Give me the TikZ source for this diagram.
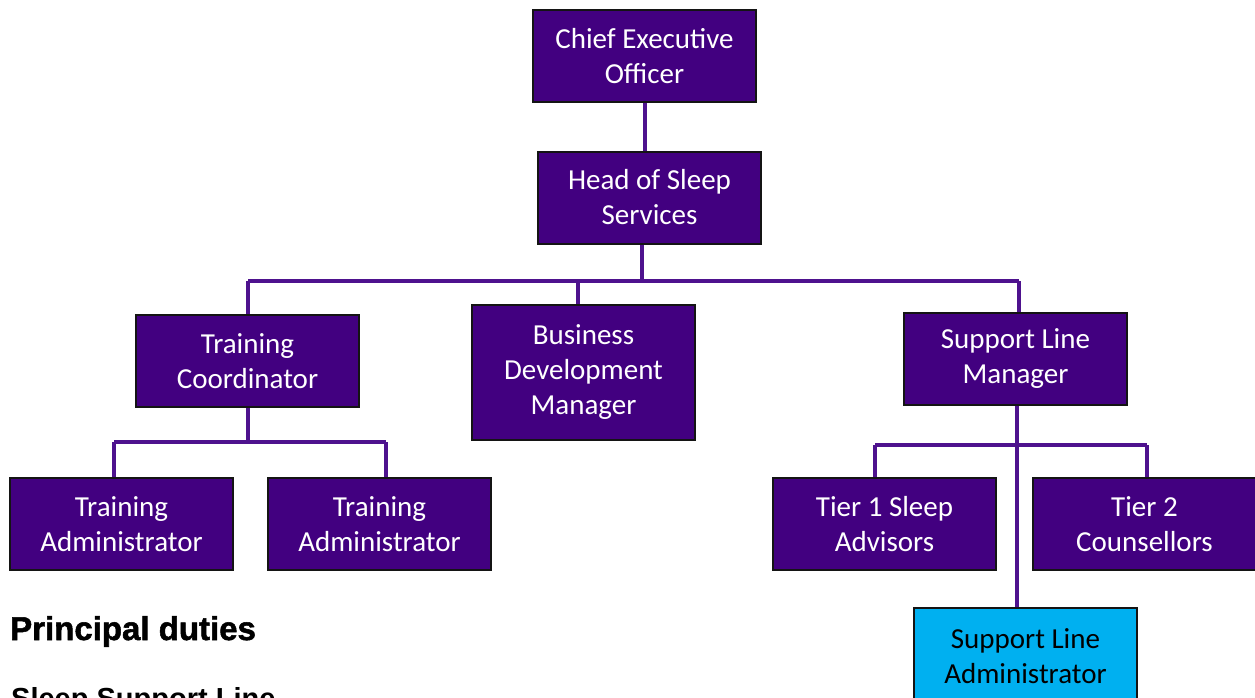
\documentclass[tikz,border=0pt]{standalone}
\usepackage{fontspec}
\setmainfont{Carlito}
\newfontfamily\headfont{Liberation Sans Bold}[FakeBold=1.6]
\newfontfamily\subheadfont{Liberation Sans Bold}
\definecolor{rolefill}{RGB}{66,0,128}
\definecolor{linkpurple}{RGB}{78,18,142}
\definecolor{adminfill}{RGB}{0,176,240}
\definecolor{boxedge}{RGB}{20,20,20}
\begin{document}
\begin{tikzpicture}[x=1pt,y=-1pt,
  role/.style={draw=boxedge, line width=2pt, fill=rolefill, text=white,
    minimum width=223pt, minimum height=92pt, inner sep=0pt, align=center,
    font=\fontsize{29}{35}\selectfont},
  adminbox/.style={role, fill=adminfill, text=black},
  link/.style={draw=linkpurple, line width=3.5pt}]
\path[use as bounding box] (0,0) rectangle (1255,698);
\clip (0,0) rectangle (1255,698);

% junction points of the connector bars
\coordinate (hb) at (642,281);
\coordinate (barL) at (248,281);
\coordinate (barM) at (578,281);
\coordinate (barR) at (1019,281);
\coordinate (tcb) at (248,442);
\coordinate (tcL) at (114,442);
\coordinate (tcR) at (386,442);
\coordinate (slb) at (1017,445);
\coordinate (slL) at (875,445);
\coordinate (slR) at (1147,445);

% roles
\node[role] (ceo) at (644.5,56) {Chief Executive\\Officer};
\node[role] (head) at (649.5,197.5) {Head of Sleep\\Services};
\node[role] (tc) at (247.5,361) {Training\\Coordinator};
\node[role, minimum height=135pt] (bdm) at (583.5,372.5) {Business\\Development\\Manager};
\node[role] (slm) at (1015.5,359) {Support Line\\Manager};
\node[role] (ta1) at (121.5,524) {Training\\Administrator};
\node[role] (ta2) at (379.5,524) {Training\\Administrator};
\node[role] (t1) at (884.5,524) {Tier 1 Sleep\\Advisors};
\node[role] (t2) at (1144.5,524) {Tier 2\\Counsellors};
\node[adminbox, minimum height=96pt] (sla) at (1025.5,656) {Support Line\\Administrator};

% reporting lines
\draw[link] (ceo.south -| 645,0) -- (head.north -| 645,0);
\draw[link] (head.south -| hb) -- (hb);
\draw[link] (barL) -- (barR);
\draw[link] (barL) -- (tc.north -| barL);
\draw[link] (barM) -- (bdm.north -| barM);
\draw[link] (barR) -- (slm.north -| barR);
\draw[link] (tc.south -| tcb) -- (tcb);
\draw[link] (tcL) -- (tcR);
\draw[link] (tcL) -- (ta1.north -| tcL);
\draw[link] (tcR) -- (ta2.north -| tcR);
\draw[link] (slm.south -| slb) -- (sla.north -| slb);
\draw[link] (slL) -- (slR);
\draw[link] (slL) -- (t1.north -| slL);
\draw[link] (slR) -- (t2.north -| slR);

% headings
\node[anchor=base west, inner sep=0pt, font=\headfont\fontsize{33}{38}\selectfont] (duties) at (10,640) {Principal duties};
\node[anchor=base west, inner sep=0pt, font=\subheadfont\fontsize{29}{34}\selectfont] (sline) at (11,708) {Sleep Support Line};
\end{tikzpicture}
\end{document}
